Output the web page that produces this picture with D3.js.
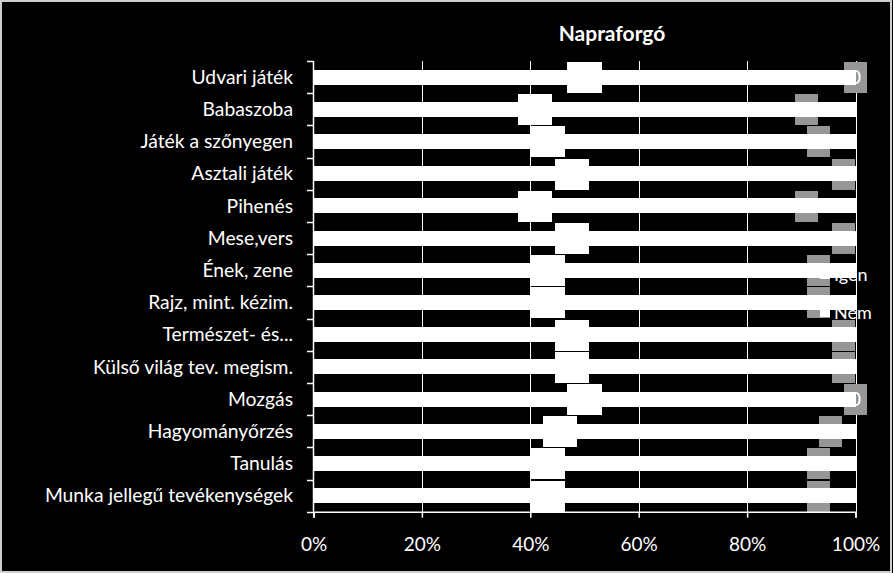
<!DOCTYPE html>
<html><head><meta charset="utf-8">
<script src="https://cdn.jsdelivr.net/npm/d3@7"></script>
<style>
html,body{margin:0;padding:0;background:#000;}
svg{display:block;}
text{font-family:Lato,"Open Sans",sans-serif;fill:#fff;}
</style></head>
<body>
<svg id="chart" width="893" height="573"></svg>
<script>
const title = "Napraforgó";
const categories = ["Udvari játék","Babaszoba","Játék a szőnyegen","Asztali játék","Pihenés","Mese,vers","Ének, zene","Rajz, mint. kézim.","Természet- és...","Külső világ tev. megism.","Mozgás","Hagyományőrzés","Tanulás","Munka jellegű tevékenységek"];
const seriesNames = ["Igen","Nem"];
const igen = [22,18,19,21,18,21,19,19,21,21,22,20,19,19];
const nem  = [0,4,3,1,4,1,3,3,1,1,0,2,3,3];
const xTicks = [0,0.2,0.4,0.6,0.8,1];

const W = 893, H = 573;
const svg = d3.select("#chart");
svg.append("rect").attr("x",0).attr("y",0).attr("width",W).attr("height",H).attr("fill","#000");
svg.append("rect").attr("x",1).attr("y",1).attr("width",W-3).attr("height",H-2)
  .attr("fill","none").attr("stroke","#d0d0d0").attr("stroke-width",2);

const x = d3.scaleLinear().domain([0,1]).range([313.5,855.5]);
const y = d3.scaleBand().domain(categories).range([61,511.7]).paddingInner(0).paddingOuter(0);
const barH = y.bandwidth()*0.466;

const rows = categories.map((c,i)=>({cat:c, Igen:igen[i], Nem:nem[i]}));
const stack = d3.stack().keys(seriesNames).offset(d3.stackOffsetExpand);
const series = stack(rows);

// title
svg.append("text").attr("x",612).attr("y",41).attr("text-anchor","middle")
  .style("font-weight","bold").style("font-size","21px").text(title);

// gridlines
svg.append("g").selectAll("line").data(xTicks.filter(t=>t>0)).join("line")
  .attr("x1",d=>Math.round(x(d))+0.5).attr("x2",d=>Math.round(x(d))+0.5)
  .attr("y1",y.range()[0]).attr("y2",y.range()[1])
  .attr("stroke","#fff").attr("stroke-width",1);

// data label boxes (behind bars)
const labelFont = "19px";
const lblG = svg.append("g");
series.forEach(s=>{
  const isIgen = s.key==="Igen";
  s.forEach((d,i)=>{
    const val = d.data[s.key];
    const cx = x((d[0]+d[1])/2);
    const cy = y(d.data.cat)+y.bandwidth()/2;
    const t = lblG.append("text").attr("x",cx).attr("y",cy).attr("dy","0.36em")
      .attr("text-anchor","middle").style("font-size",labelFont).text(val);
    const tw = t.node().getComputedTextLength();
    const bw = tw + 12, bh = 31;
    lblG.insert("rect","text").attr("x",cx-bw/2).attr("y",cy-bh/2+0.5)
      .attr("width",bw).attr("height",bh).attr("fill",isIgen?"#ffffff":"#969696")
      .attr("shape-rendering","crispEdges");
  });
});

// bars
svg.append("g").attr("shape-rendering","crispEdges").selectAll("g").data(series).join("g").attr("fill","#fff")
  .selectAll("rect").data(d=>d).join("rect")
  .attr("x",d=>x(d[0])).attr("width",d=>x(d[1])-x(d[0])+0.5)
  .attr("y",d=>y(d.data.cat)+(y.bandwidth()-barH)/2).attr("height",barH);

// y axis
const yAxisG = svg.append("g");
yAxisG.append("line").attr("x1",313.5).attr("x2",313.5).attr("y1",y.range()[0]).attr("y2",y.range()[1])
  .attr("stroke","#fff").attr("stroke-width",1.5);
const bounds = categories.map(c=>y(c)).concat([y.range()[1]]);
yAxisG.selectAll("line.tick").data(bounds).join("line").attr("class","tick")
  .attr("x1",307).attr("x2",313.5).attr("y1",d=>Math.round(d)+0.5).attr("y2",d=>Math.round(d)+0.5)
  .attr("stroke","#fff").attr("stroke-width",1.5);
yAxisG.selectAll("text").data(categories).join("text")
  .attr("x",293).attr("y",d=>y(d)+y.bandwidth()/2).attr("dy","0.35em")
  .attr("text-anchor","end").style("font-size","19.3px").text(d=>d);

// x axis
const xAxis = d3.axisBottom(x).tickValues(xTicks).tickSize(6).tickPadding(20).tickFormat(d3.format(".0%"));
const xg = svg.append("g").attr("transform",`translate(0,${y.range()[1]})`).call(xAxis);
xg.select(".domain").attr("stroke","#fff").attr("stroke-width",1.5);
xg.selectAll(".tick line").attr("stroke","#fff").attr("stroke-width",1.5);
xg.selectAll(".tick text").attr("fill","#fff").style("font-size","19px")
  .style("font-family","Lato,'Open Sans',sans-serif");

// legend
const legG = svg.append("g");
const legY = [275, 313];
seriesNames.forEach((n,i)=>{
  legG.append("rect").attr("x",820).attr("y",legY[i]-5).attr("width",10).attr("height",9).attr("fill","#fff");
  legG.append("text").attr("x",834).attr("y",legY[i]).attr("dy","0.35em").style("font-size","18px").text(n);
});
</script>
</body></html>
